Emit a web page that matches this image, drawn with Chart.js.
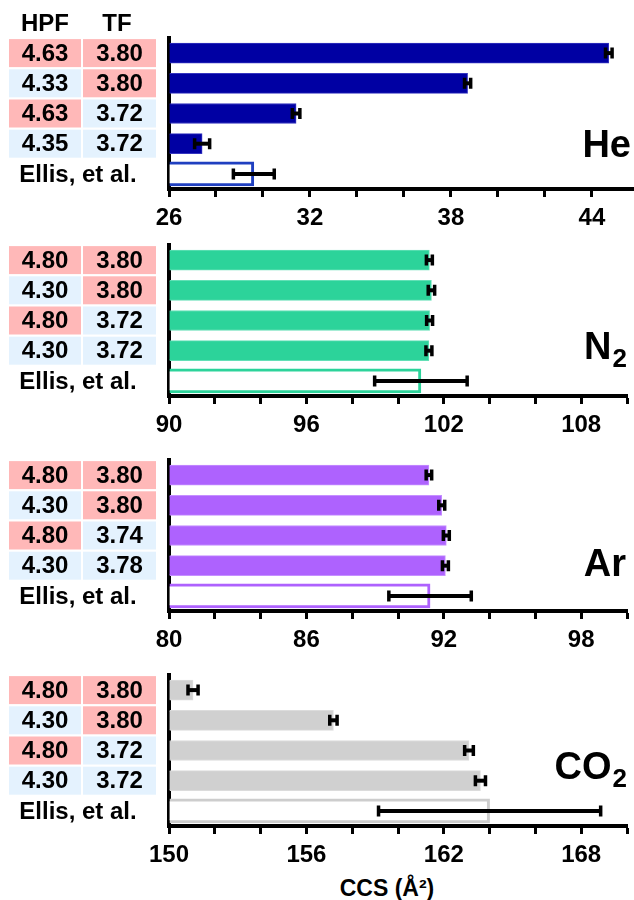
<!DOCTYPE html>
<html>
<head>
<meta charset="utf-8">
<script src="https://cdn.jsdelivr.net/npm/chart.js@4.4.1/dist/chart.umd.min.js"></script>
<style>
    html, body { margin: 0; padding: 0; background: #fff; }
    #fig { position: relative; width: 634px; height: 900px; overflow: hidden; }
    #fig canvas { position: absolute; left: 0; }
    #xTitle {
        position: absolute; left: 287px; width: 200px; top: 875px;
        text-align: center; font: bold 23px 'Liberation Sans', Arial, sans-serif; color: #000;
    }
</style>
</head>
<body>
<div id="fig">
    <canvas id="heChart" width="634" height="230" style="top:0px"></canvas>
    <canvas id="n2Chart" width="634" height="230" style="top:207px"></canvas>
    <canvas id="arChart" width="634" height="230" style="top:422px"></canvas>
    <canvas id="co2Chart" width="634" height="230" style="top:637px"></canvas>
    <div id="xTitle">CCS (Å²)</div>
</div>
<script>
// ================= Data =================
const rowLabels = ['Set 1', 'Set 2', 'Set 3', 'Set 4', 'Ellis, et al.'];

// He
const hpfHe = ['4.63', '4.33', '4.63', '4.35'];
const tfHe = ['3.80', '3.80', '3.72', '3.72'];
const ccsHe = [44.72, 38.71, 31.41, 27.41];
const errHe = [0.14, 0.13, 0.16, 0.32];
const ellisHe = 29.61;
const ellisErrHe = 0.87;
const rangeHe = [26, 45.75];
const ticksHe = [26, 32, 38, 44];

// N2
const hpfN2 = ['4.80', '4.30', '4.80', '4.30'];
const tfN2 = ['3.80', '3.80', '3.72', '3.72'];
const ccsN2 = [101.37, 101.46, 101.38, 101.35];
const errN2 = [0.13, 0.14, 0.13, 0.13];
const ellisN2 = 101.0;
const ellisErrN2 = 2.02;
const rangeN2 = [90, 110];
const ticksN2 = [90, 96, 102, 108];

// Ar
const hpfAr = ['4.80', '4.30', '4.80', '4.30'];
const tfAr = ['3.80', '3.80', '3.74', '3.78'];
const ccsAr = [91.35, 91.91, 92.11, 92.07];
const errAr = [0.12, 0.13, 0.13, 0.13];
const ellisAr = 91.4;
const ellisErrAr = 1.8;
const rangeAr = [80, 100];
const ticksAr = [80, 86, 92, 98];

// CO2
const hpfCO2 = ['4.80', '4.30', '4.80', '4.30'];
const tfCO2 = ['3.80', '3.80', '3.72', '3.72'];
const ccsCO2 = [151.05, 157.18, 163.1, 163.6];
const errCO2 = [0.22, 0.16, 0.19, 0.22];
const ellisCO2 = 164.0;
const ellisErrCO2 = 4.85;
const rangeCO2 = [150, 170];
const ticksCO2 = [150, 156, 162, 168];

// ================= Styling =================
const FONT = "'Liberation Sans', Arial, sans-serif";
const PINK = '#ffb8b8';
const BLUE = '#e4f2fe';

const panels = [
    { id: 'heChart', gas: 'He', sub: '', hpf: hpfHe, tf: tfHe, ccs: ccsHe, err: errHe,
      ellis: ellisHe, ellisErr: ellisErrHe, range: rangeHe, ticks: ticksHe,
      fill: '#0000a3', edge: '#3535c0', outline: '#1f3fc0', header: true, labelX: 631, labelY: 119 },
    { id: 'n2Chart', gas: 'N', sub: '2', hpf: hpfN2, tf: tfN2, ccs: ccsN2, err: errN2,
      ellis: ellisN2, ellisErr: ellisErrN2, range: rangeN2, ticks: ticksN2,
      fill: '#2cd39a', edge: '#63e0b6', outline: '#2cd39a', header: false, labelX: 627, labelY: 114 },
    { id: 'arChart', gas: 'Ar', sub: '', hpf: hpfAr, tf: tfAr, ccs: ccsAr, err: errAr,
      ellis: ellisAr, ellisErr: ellisErrAr, range: rangeAr, ticks: ticksAr,
      fill: '#ae62fe', edge: '#c590ff', outline: '#ae62fe', header: false, labelX: 626, labelY: 116 },
    { id: 'co2Chart', gas: 'CO', sub: '2', hpf: hpfCO2, tf: tfCO2, ccs: ccsCO2, err: errCO2,
      ellis: ellisCO2, ellisErr: ellisErrCO2, range: rangeCO2, ticks: ticksCO2,
      fill: '#d0d0d0', edge: '#dcdcdc', outline: '#cdcdcd', header: false, labelX: 627, labelY: 104 }
];

// pink when the value is the higher setting of its column
function cellFill(values, i) {
    const top = Math.max(...values.map(Number));
    return Number(values[i]) === top ? PINK : BLUE;
}

// Error bars, HPF/TF table and gas label
function panelDecor(p) {
    return {
        id: 'panelDecor',
        afterDatasetsDraw(chart) {
            const { ctx, scales: { x, y } } = chart;
            ctx.save();
            ctx.strokeStyle = '#000';
            chart.data.datasets.forEach(ds => {
                ds.data.forEach((v, i) => {
                    if (v == null) return;
                    const e = ds.errors[i];
                    const x1 = x.getPixelForValue(v - e);
                    const x2 = x.getPixelForValue(v + e);
                    const yy = y.getPixelForValue(i);
                    ctx.lineWidth = 4;
                    ctx.beginPath();
                    ctx.moveTo(x1, yy);
                    ctx.lineTo(x2, yy);
                    ctx.stroke();
                    ctx.lineWidth = 3.5;
                    ctx.beginPath();
                    ctx.moveTo(x1, yy - 5.5); ctx.lineTo(x1, yy + 5.5);
                    ctx.moveTo(x2, yy - 5.5); ctx.lineTo(x2, yy + 5.5);
                    ctx.stroke();
                });
            });
            ctx.restore();
        },
        afterDraw(chart) {
            const { ctx, chartArea, scales: { y } } = chart;
            ctx.save();
            ctx.textAlign = 'center';
            ctx.textBaseline = 'middle';
            ctx.font = `bold 24px ${FONT}`;

            p.hpf.forEach((h, i) => {
                const cy = y.getPixelForValue(i);
                ctx.fillStyle = cellFill(p.hpf, i);
                ctx.fillRect(9, cy - 14, 72, 28);
                ctx.fillStyle = cellFill(p.tf, i);
                ctx.fillRect(83, cy - 14, 73, 28);
                ctx.fillStyle = '#000';
                ctx.fillText(h, 45, cy + 1);
                ctx.fillText(p.tf[i], 119.5, cy + 1);
            });
            ctx.fillText(rowLabels[4], 78, y.getPixelForValue(4) + 1);

            if (p.header) {
                const hy = y.getPixelForValue(-1);
                ctx.fillText('HPF', 45, hy + 1);
                ctx.fillText('TF', 117, hy + 1);
            }

            // gas name, subscript drawn at the right
            const base = chartArea.top + p.labelY;
            ctx.textAlign = 'right';
            ctx.textBaseline = 'alphabetic';
            let right = p.labelX;
            if (p.sub) {
                ctx.font = `bold 26px ${FONT}`;
                ctx.fillText(p.sub, right, base + 8);
                right -= ctx.measureText(p.sub).width + 1;
            }
            ctx.font = `bold 38px ${FONT}`;
            ctx.fillText(p.gas, right, base);
            ctx.restore();
        }
    };
}

function createPanel(p) {
    const canvas = document.getElementById(p.id);
    const data = {
        labels: rowLabels,
        datasets: [
            {
                label: 'This work',
                data: [...p.ccs, null],
                errors: [...p.err, 0],
                base: p.range[0],
                backgroundColor: p.fill,
                borderColor: p.edge,
                borderWidth: 1,
                borderSkipped: 'start',
                barThickness: 20,
                grouped: false
            },
            {
                label: 'Ellis, et al.',
                data: [null, null, null, null, p.ellis],
                errors: [0, 0, 0, 0, p.ellisErr],
                base: p.range[0],
                backgroundColor: '#ffffff',
                borderColor: p.outline,
                borderWidth: 3,
                borderSkipped: 'start',
                barThickness: 24,
                grouped: false
            }
        ]
    };

    return new Chart(canvas, {
        type: 'bar',
        data,
        options: {
            indexAxis: 'y',
            responsive: false,
            animation: false,
            devicePixelRatio: 1,
            layout: { padding: { top: 38, left: 169, right: 1, bottom: 0 } },
            plugins: { legend: { display: false }, tooltip: { enabled: false } },
            scales: {
                x: {
                    type: 'linear',
                    min: p.range[0],
                    max: p.range[1],
                    z: 1,
                    afterFit: s => { s.height = 41; },
                    border: { display: true, color: '#000', width: 4 },
                    grid: {
                        display: true, drawOnChartArea: false, drawTicks: true,
                        tickLength: 8, tickWidth: 3, tickColor: '#000'
                    },
                    ticks: {
                        stepSize: 2,
                        autoSkip: false,
                        includeBounds: false,
                        maxRotation: 0,
                        padding: 7,
                        color: '#000',
                        font: { family: FONT, size: 24, weight: 'bold' },
                        callback: v => (p.ticks.includes(v) ? v : '')
                    }
                },
                y: {
                    type: 'category',
                    z: 1,
                    afterFit: s => { s.width = 0; },
                    border: { display: true, color: '#000', width: 4 },
                    grid: { display: false },
                    ticks: { display: false }
                }
            }
        },
        plugins: [panelDecor(p)]
    });
}

panels.forEach(createPanel);
</script>
</body>
</html>
